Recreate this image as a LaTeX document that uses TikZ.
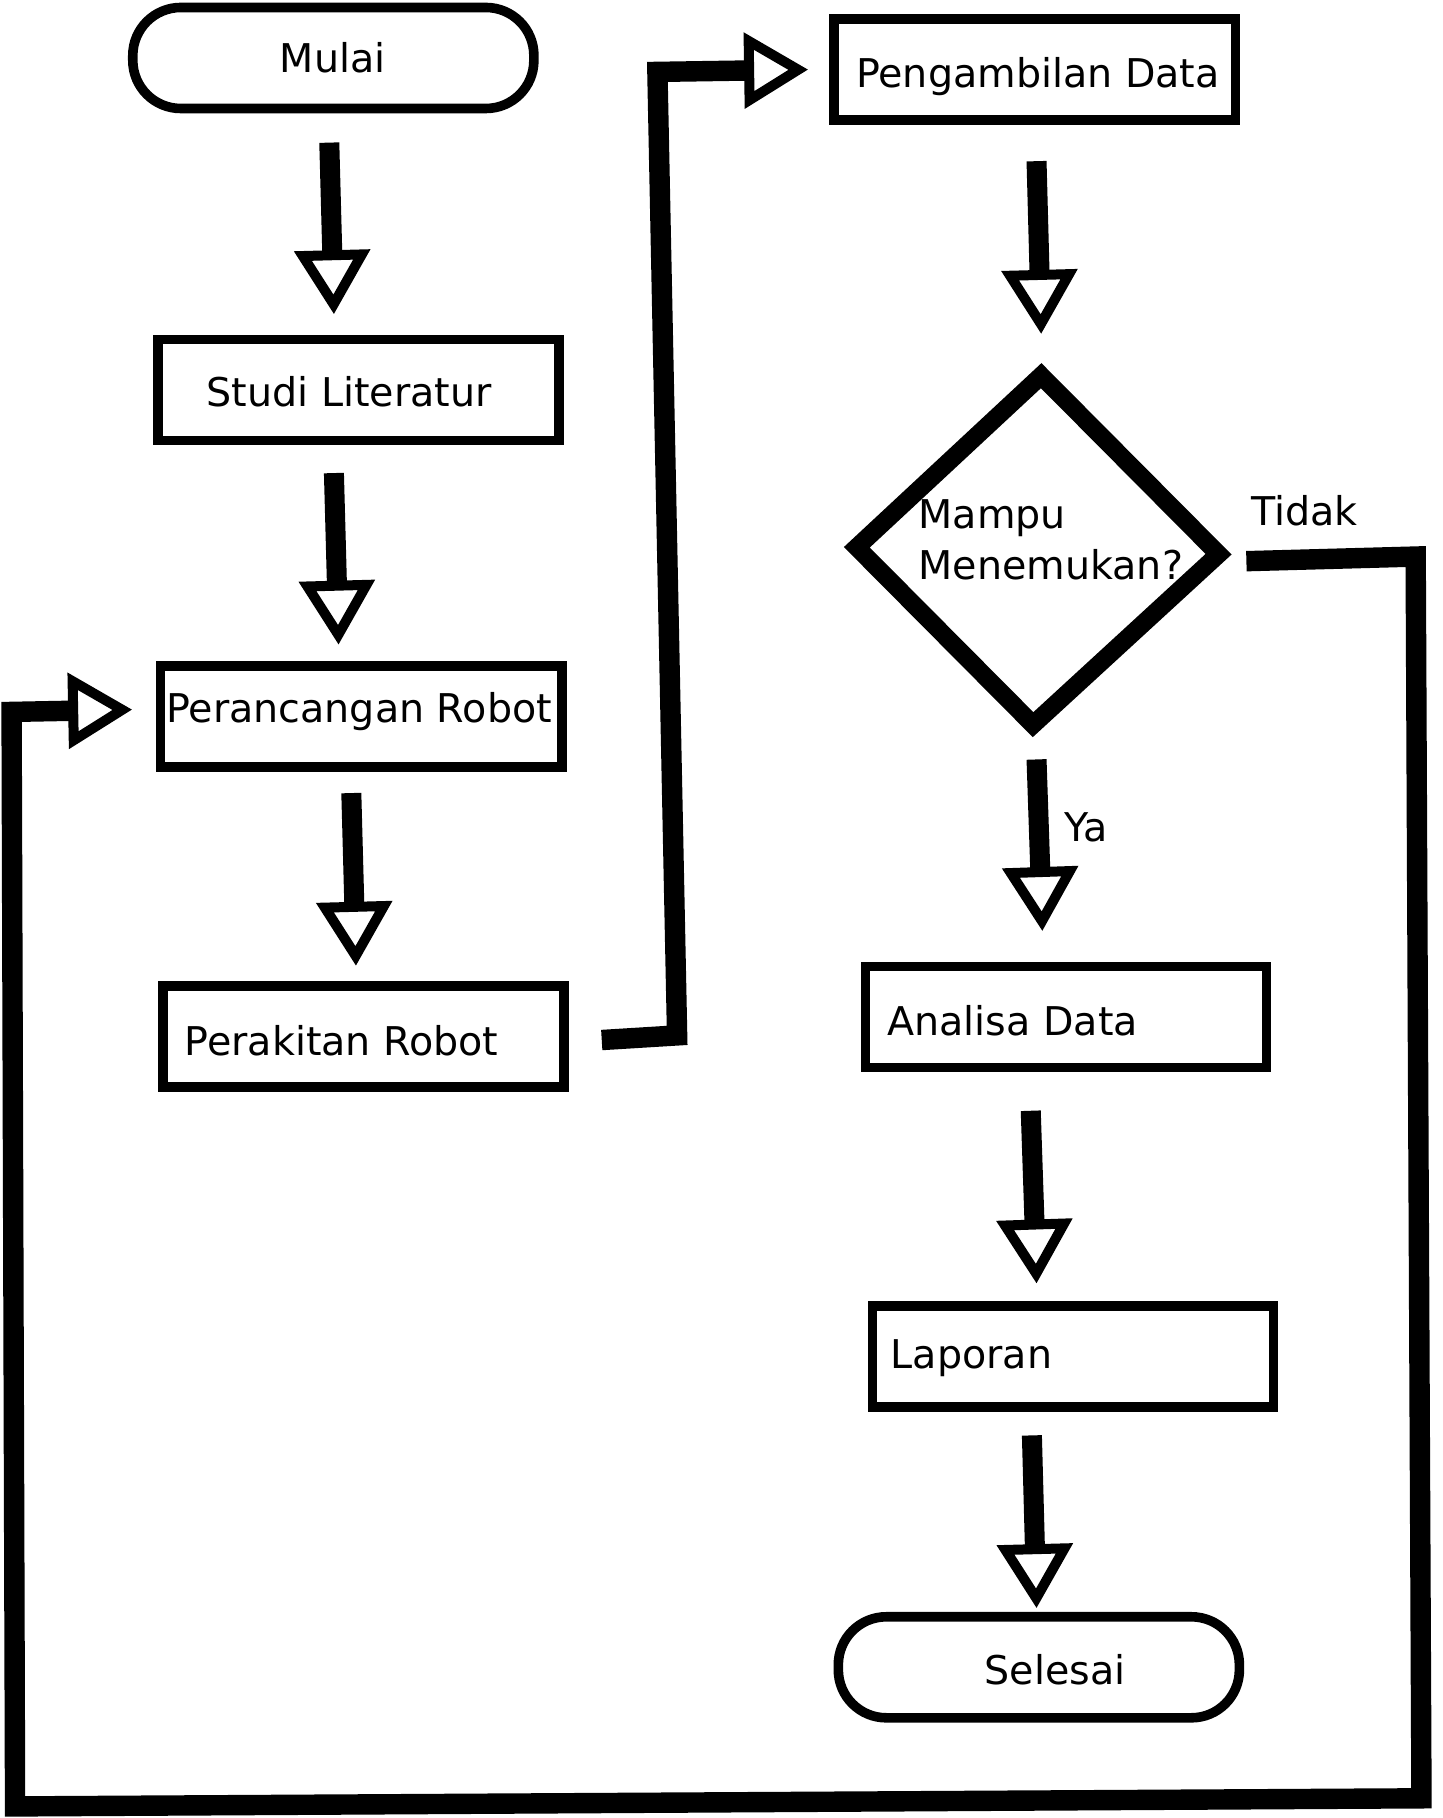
\documentclass[tikz,border=0pt]{standalone}
\usepackage{fontspec}
\setmainfont{DejaVu Sans}
\usetikzlibrary{arrows.meta}
\begin{document}
\begin{tikzpicture}[x=0.5796pt,y=-0.5796pt,
  box/.style={draw,line width=4.8pt,minimum width=200.5pt,minimum height=50.5pt,inner sep=0pt},
  term/.style={box,rounded corners=24pt},
  lbl/.style={anchor=base west,inner sep=0pt,font=\fontsize{19.8}{24}\selectfont},
  tip/.style={-{Triangle[open,length=32pt,width=37pt,line width=5pt]}},
  flow/.style={line width=10pt,tip},
  conn/.style={line width=10.2pt,line join=miter,tip},
  dec/.style={draw,line width=9pt,line join=miter}]
\useasboundingbox (0,0) rectangle (1244,1568);

% boxes
\node[term] (mulai) at (287.5,50) {};
\node[box] (studi) at (309,336.5) {};
\node[box] (rancang) at (311.5,618) {};
\node[box] (rakit) at (313.5,894) {};
\node[box] (ambil) at (892.5,60) {};
\node[box] (analisa) at (919.5,877) {};
\node[box] (laporan) at (925.5,1170) {};
\node[term] (selesai) at (896,1438) {};

% decision
\coordinate (dt) at (898,324);
\coordinate (dl) at (739,472);
\coordinate (db) at (891,625);
\coordinate (dr) at (1051,478);
\draw[dec] (dt) -- (dr) -- (db) -- (dl) -- cycle;

% labels
\node[lbl] (tmulai) at (241,62.5) {Mulai};
\node[lbl] (tstudi) at (178,350.5) {Studi Literatur};
\node[lbl] (trancang) at (143,623.5) {Perancangan Robot};
\node[lbl] (trakit) at (159,910.5) {Perakitan Robot};
\node[lbl] (tambil) at (738,75.5) {Pengambilan Data};
\node[lbl] (tmampu) at (792,455.5) {Mampu};
\node[lbl] (tmenemu) at (792,499.5) {Menemukan?};
\node[lbl] (ttidak) at (1079,453.5) {Tidak};
\node[lbl] (tya) at (918,725.5) {Ya};
\node[lbl] (tanalisa) at (765,893.5) {Analisa Data};
\node[lbl] (tlaporan) at (768,1180.5) {Laporan};
\node[lbl] (tselesai) at (849,1452.5) {Selesai};

% straight flow arrows
\coordinate (f1a) at (284,123);  \coordinate (f1b) at (288,271);
\coordinate (f2a) at (288,408);  \coordinate (f2b) at (292,556);
\coordinate (f3a) at (303,684);  \coordinate (f3b) at (307,833);
\coordinate (f4a) at (894,139);  \coordinate (f4b) at (898,288);
\coordinate (f5a) at (894,655);  \coordinate (f5b) at (899,803);
\coordinate (f6a) at (889,958);  \coordinate (f6b) at (894,1107);
\coordinate (f7a) at (890,1238); \coordinate (f7b) at (894,1387);
\draw[flow] (f1a) -- (f1b);
\draw[flow] (f2a) -- (f2b);
\draw[flow] (f3a) -- (f3b);
\draw[flow] (f4a) -- (f4b);
\draw[flow] (f5a) -- (f5b);
\draw[flow] (f6a) -- (f6b);
\draw[flow] (f7a) -- (f7b);

% connector Perakitan -> Pengambilan
\coordinate (c1a) at (519,897);
\coordinate (c1b) at (697,60);
\draw[conn] (c1a) -- (584,893) -- (567,62) -- (c1b);

% connector Tidak -> Perancangan
\coordinate (c2a) at (1075,484);
\coordinate (c2b) at (114,612);
\draw[conn] (c2a) -- (1221,480) -- (1226,1551) -- (13,1558) -- (10,614) -- (c2b);
\end{tikzpicture}
\end{document}
